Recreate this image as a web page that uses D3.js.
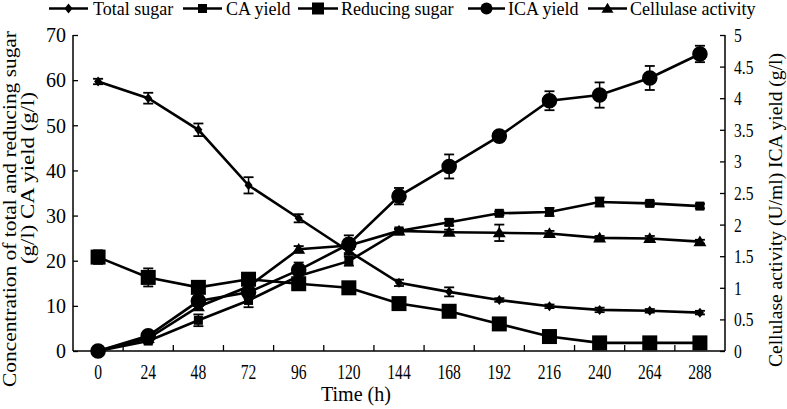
<!DOCTYPE html>
<html><head><meta charset="utf-8">
<script src="https://cdn.jsdelivr.net/npm/d3@7"></script>
<style>
html,body{margin:0;padding:0;background:#fff;}
</style></head>
<body>
<svg id="chart" width="787" height="409"></svg>
<script>
// ---- data ----
const times = [0,24,48,72,96,120,144,168,192,216,240,264,288];
const totalSugar    = [59.7,56.0,49.0,36.7,29.4,22.1,15.1,13.1,11.3,9.9,9.1,8.9,8.5];
const totalSugarErr = [0.6,1.2,1.4,1.8,0.9,0.8,0.7,1.0,0.4,0.4,0.5,0.4,0.4];
const caYield       = [0,2.2,6.8,11.2,16.6,19.9,26.6,28.5,30.5,30.8,33.0,32.7,32.1];
const caYieldErr    = [0,0.5,1.3,1.5,1.3,1.0,0.5,0.7,0.4,0.9,1.0,0.5,0.5];
const reducingSugar = [20.8,16.3,14.1,15.9,14.9,14.0,10.5,8.8,6.0,3.2,1.8,1.8,1.8];
const reducingErr   = [1.5,2.0,0.8,1.0,1.0,0.5,0.5,0.5,0.4,0.4,0.3,0.3,0.3];
const icaYield      = [0,0.24,0.79,0.93,1.28,1.69,2.45,2.92,3.40,3.96,4.05,4.32,4.70];
const icaErr        = [0,0.05,0.08,0.1,0.12,0.14,0.13,0.19,0.04,0.15,0.2,0.19,0.13];
const cellulase     = [0,0.20,0.70,1.02,1.61,1.67,1.90,1.88,1.87,1.86,1.79,1.78,1.73];
const cellulaseErr  = [0,0.03,0.05,0.08,0.05,0.06,0.03,0.04,0.13,0.04,0.03,0.04,0.03];
const leftTicks  = [0,10,20,30,40,50,60,70];
const rightTicks = [0,0.5,1,1.5,2,2.5,3,3.5,4,4.5,5];
const legendLabels = ["Total sugar","CA yield","Reducing sugar","ICA yield","Cellulase activity"];

const FONT = "Liberation Serif, Tinos, Noto Serif, DejaVu Serif, serif";

// ---- layout ----
const svg = d3.select("#chart");
const X0 = 73, X1 = 725, Y0 = 351, Y1 = 35;
const x = d3.scaleBand().domain(times).range([X0, X1]).paddingInner(0).paddingOuter(0);
const cx = t => x(t) + x.bandwidth()/2;
const yL = d3.scaleLinear().domain([0,70]).range([Y0,Y1]);
const yR = d3.scaleLinear().domain([0,5]).range([Y0,Y1]);

const markers = {
  diamond: s => `M0,${-s}L${s*0.8},0L0,${s}L${-s*0.8},0Z`,
  square: s => `M${-s},${-s}H${s}V${s}H${-s}Z`,
  circle: s => `M${-s},0A${s},${s} 0 1,0 ${s},0A${s},${s} 0 1,0 ${-s},0Z`,
  triangle: s => `M0,${-s*0.95}L${s},${s*0.7}L${-s},${s*0.7}Z`
};

const series = [
  {name:legendLabels[0], vals:totalSugar, err:totalSugarErr, y:yL, shape:"diamond", size:5, lsize:5},
  {name:legendLabels[1], vals:caYield, err:caYieldErr, y:yL, shape:"square", size:4.5, lsize:4.5},
  {name:legendLabels[2], vals:reducingSugar, err:reducingErr, y:yL, shape:"square", size:7.5, lsize:6},
  {name:legendLabels[3], vals:icaYield, err:icaErr, y:yR, shape:"circle", size:7.8, lsize:6},
  {name:legendLabels[4], vals:cellulase, err:cellulaseErr, y:yR, shape:"triangle", size:6.5, lsize:6}
];

function serif(sel){ sel.style("font-family", FONT); }

// ---- axes ----
const axG = svg.append("g");
axG.append("line").attr("x1",X0).attr("x2",X0).attr("y1",Y1).attr("y2",Y0).attr("stroke","#000").attr("stroke-width",1.5);
axG.append("line").attr("x1",X1).attr("x2",X1).attr("y1",Y1).attr("y2",Y0).attr("stroke","#000").attr("stroke-width",1.5);
axG.append("line").attr("x1",X0).attr("x2",X1).attr("y1",Y0).attr("y2",Y0).attr("stroke","#000").attr("stroke-width",1.5);

const gl = svg.append("g").attr("transform",`translate(${X0},0)`)
  .call(d3.axisLeft(yL).tickValues(leftTicks).tickSize(-5).tickSizeOuter(0).tickPadding(7).tickFormat(d3.format("d")));
gl.attr("font-family", null);
gl.select(".domain").remove();
gl.selectAll(".tick line").attr("stroke","#000").attr("stroke-width",1.3);
gl.selectAll(".tick text").call(serif).style("font-size","20px").attr("dy","0.34em");

const gr = svg.append("g").attr("transform",`translate(${X1},0)`)
  .call(d3.axisRight(yR).tickValues(rightTicks).tickSize(-5).tickSizeOuter(0).tickPadding(9).tickFormat(d => String(d)));
gr.attr("font-family", null);
gr.select(".domain").remove();
gr.selectAll(".tick line").attr("stroke","#000").attr("stroke-width",1.3);
gr.selectAll(".tick text").call(serif).style("font-size","19px").attr("dy","0.34em")
  .each(function(){ const n=this.getComputedTextLength(); d3.select(this).attr("textLength", n*0.82).attr("lengthAdjust","spacingAndGlyphs"); });

const bt = svg.append("g");
bt.selectAll("line.bt").data(times.slice(1)).join("line")
  .attr("x1",d=>x(d)).attr("x2",d=>x(d)).attr("y1",Y0).attr("y2",Y0-6).attr("stroke","#000").attr("stroke-width",1.3);
bt.selectAll("text.bl").data(times).join("text").call(serif)
  .attr("x",d=>cx(d)).attr("y",379).attr("text-anchor","middle").style("font-size","20px")
  .text(d=>d)
  .each(function(){ const n=this.getComputedTextLength(); d3.select(this).attr("textLength", n*0.78).attr("lengthAdjust","spacingAndGlyphs"); });

function fitText(sel, len){ sel.attr("textLength", len).attr("lengthAdjust","spacingAndGlyphs"); }
svg.append("text").call(serif).attr("x",356).attr("y",401).attr("text-anchor","middle").style("font-size","21px").text("Time (h)")
  .call(s=>fitText(s,70));
svg.append("text").call(serif).attr("transform","translate(16,209) rotate(-90)").attr("text-anchor","middle").style("font-size","18px")
  .text("Concentration of total and reducing sugar").call(s=>fitText(s,356));
svg.append("text").call(serif).attr("transform","translate(34,178) rotate(-90)").attr("text-anchor","middle").style("font-size","18px")
  .text("(g/l) CA yield (g/l)").call(s=>fitText(s,172));
svg.append("text").call(serif).attr("transform","translate(782,210) rotate(-90)").attr("text-anchor","middle").style("font-size","18px")
  .text("Cellulase activity (U/ml) ICA yield (g/l)").call(s=>fitText(s,314));

// ---- series ----
const plot = svg.append("g");
series.forEach(s => {
  const pts = times.map((t,i)=>({t, v:s.vals[i], e:s.err[i]}));
  const line = d3.line().x(d=>cx(d.t)).y(d=>s.y(d.v));
  plot.append("path").datum(pts).attr("d",line).attr("fill","none").attr("stroke","#000").attr("stroke-width",2.6);
  const eb = plot.append("g");
  pts.filter(d=>d.e>0).forEach(d=>{
    const xx=cx(d.t), ya=s.y(d.v+d.e), yb=s.y(d.v-d.e);
    eb.append("line").attr("x1",xx).attr("x2",xx).attr("y1",ya).attr("y2",yb).attr("stroke","#000").attr("stroke-width",1.5);
    eb.append("line").attr("x1",xx-5).attr("x2",xx+5).attr("y1",ya).attr("y2",ya).attr("stroke","#000").attr("stroke-width",1.8);
    eb.append("line").attr("x1",xx-5).attr("x2",xx+5).attr("y1",yb).attr("y2",yb).attr("stroke","#000").attr("stroke-width",1.8);
  });
  plot.append("g").selectAll("path").data(pts).join("path")
    .attr("transform",d=>`translate(${cx(d.t)},${s.y(d.v)})`)
    .attr("d",markers[s.shape](s.size)).attr("fill","#000");
});

// ---- legend ----
const legendPos = [{x1:49,x2:88,tx:93},{x1:183,x2:222,tx:226},{x1:298,x2:338,tx:341},{x1:468,x2:505,tx:508},{x1:588,x2:627,tx:630}];
const lg = svg.append("g");
series.forEach((s,i)=>{
  const p = legendPos[i], ly = 8.5;
  lg.append("line").attr("x1",p.x1).attr("x2",p.x2).attr("y1",ly).attr("y2",ly).attr("stroke","#000").attr("stroke-width",2.6);
  lg.append("path").attr("transform",`translate(${(p.x1+p.x2)/2},${ly})`).attr("d",markers[s.shape](s.lsize)).attr("fill","#000");
  lg.append("text").call(serif).attr("x",p.tx).attr("y",14.5).style("font-size","18px").text(s.name);
});
</script>
</body></html>
